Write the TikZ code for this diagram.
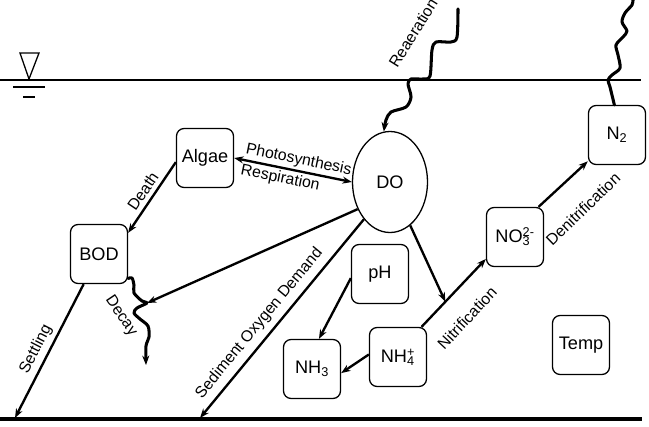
\documentclass[tikz,border=0pt]{standalone}
\usepackage{fontspec}
\setmainfont{Liberation Sans}
\usetikzlibrary{arrows.meta, shapes.geometric, positioning}
\newcommand{\chem}[3]{#1\rlap{\textsubscript{#2}}\textsuperscript{#3}}

\begin{document}
\begin{tikzpicture}[
  x=0.3mm, y=-0.3mm,
  every node/.style={font=\fontsize{13.5}{16}\selectfont},
  box/.style={draw, line width=1.1pt, rounded corners=6.5pt,
              minimum width=17.1mm, minimum height=17.7mm,
              inner sep=1pt, font=\fontsize{15.5}{18}\selectfont},
  pool/.style={draw, line width=1.1pt, ellipse, minimum width=22.5mm,
               minimum height=30.3mm, inner sep=0pt,
               font=\fontsize{15.5}{18}\selectfont},
  arrow/.style={-{Stealth[length=8pt,width=6pt]}, line width=2pt},
  darrow/.style={{Stealth[length=8pt,width=6pt]}-{Stealth[length=8pt,width=6pt]},
                 line width=2pt},
  wave/.style={line width=2.6pt, line join=round, line cap=round},
]
\useasboundingbox (0,0) rectangle (649,426);

%% water surface and bed
\draw[line width=1.1pt] (0,80) -- (641,80);
\draw[line width=1.1pt] (20,53) -- (39,53) -- (29,79) -- cycle;
\draw[line width=1.1pt] (13,87) -- (45,87);
\draw[line width=1.1pt] (23,97) -- (35,97);
\draw[line width=3.4pt] (0,419) -- (642,419);

%% state variables
\node[pool] (do)    at (390,182) {DO};
\node[box]  (algae) at (205,158) {Algae};
\node[box]  (bod)   at (99,254)  {BOD};
\node[box]  (ph)    at (380,274) {pH};
\node[box]  (nh4)   at (398,357) {\chem{NH}{4}{+}};
\node[box]  (nh3)   at (312,369) {NH\textsubscript{3}};
\node[box]  (no3)   at (515,237) {\chem{NO}{3}{2-}};
\node[box]  (n2)    at (617,135) {N\textsubscript{2}};
\node[box]  (temp)  at (581,345) {Temp};

\coordinate (settle) at (15,418);
\coordinate (sod)    at (200,418);
\coordinate (reatop) at (458,9);
\coordinate (n2top)  at (633,0);
\coordinate (decmid) at (147,303);
\coordinate (decend) at (146,365);

%% reaeration
\draw[wave, arrow, line width=2.6pt] plot[smooth, tension=0.5] coordinates {
  (reatop) (457,37) (451,42) (436,42) (432,50) (430,76) (423,79) (411,79)
  (408,84) (411,97) (406,107) (391,112) (386,120) (do.97)};
\node[rotate=58] at (413,33) {Reaeration};

%% algae
\draw[darrow] (algae.east) --
  node[pos=0.53, above, sloped, inner sep=2pt]{Photosynthesis}
  node[pos=0.41, below, sloped, inner sep=2pt]{Respiration} (do.west);
\draw[arrow] (algae.-172) -- node[above, sloped, inner sep=3.5pt]{Death} (bod.36);

%% BOD
\draw[arrow] (bod.-117) -- node[pos=0.53, above, sloped, inner sep=3.5pt]{Settling} (settle);
\draw[wave, arrow, line width=2.6pt] plot[smooth, tension=0.5] coordinates {
  (bod.-40) (132,278) (134,285) (134,293) (142,301) (decmid) (137,308)
  (134,313) (140,319) (148,326) (149,337) (146,346) (decend)};
\node[rotate=-56] at (121,316) {Decay};
\draw[arrow] (do.220) -- (decmid);

%% sediment
\draw[arrow] (do.235) --
  node[pos=0.57, above, sloped, inner sep=5pt]{Sediment Oxygen Demand} (sod);

%% nitrogen
\draw[arrow] (ph.-172) -- (nh3.77);
\draw[arrow] (nh4.175) -- (nh3.-8);
\draw[arrow] (nh4.52) -- coordinate[pos=0.37] (nit) (no3.217);
\node[rotate=47] at (467,318) {Nitrification};
\draw[arrow] (do.-65) -- (nit);
\draw[arrow] (no3.52) -- (n2.222);
\node[rotate=44] at (583,209) {Denitrification};
\draw[wave] plot[smooth, tension=0.5] coordinates {
  (n2.95) (610,87) (608,80) (612,75) (620,68) (618,55) (616,45) (623,37)
  (627,31) (622,22) (625,13) (632,5) (n2top)};

\end{tikzpicture}
\end{document}
